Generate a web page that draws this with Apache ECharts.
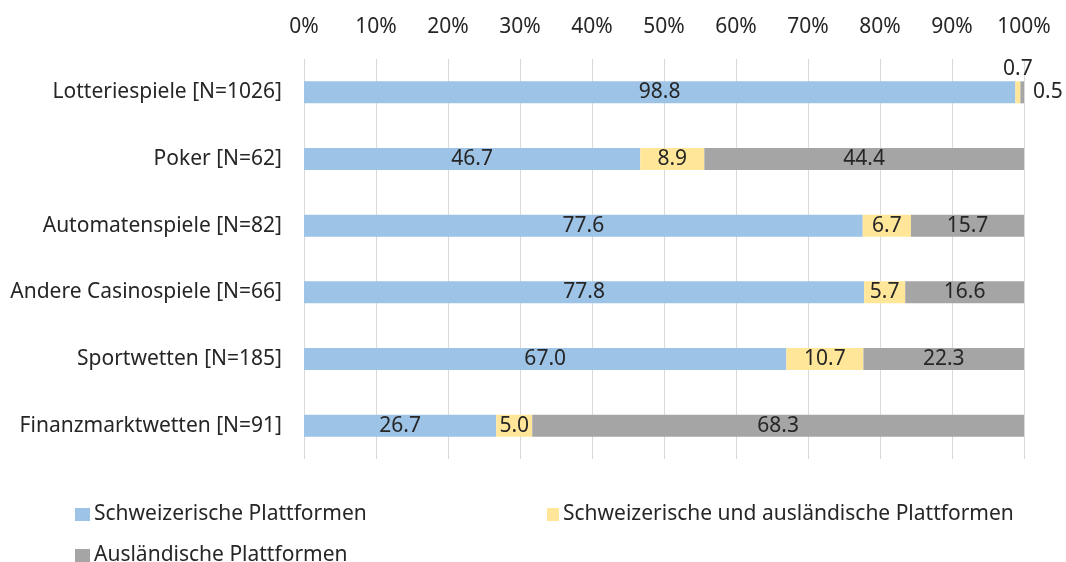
<!DOCTYPE html>
<html>
<head>
<meta charset="utf-8">
<script src="https://cdn.jsdelivr.net/npm/echarts@6/dist/echarts.min.js"></script>
<style>
  html, body { margin: 0; padding: 0; background: #fff; }
  #chart { width: 1066px; height: 562px; }
</style>
</head>
<body>
<div id="chart"></div>
<script>
// 类别（从上到下）
var categories = ['Lotteriespiele [N=1026]', 'Poker [N=62]', 'Automatenspiele [N=82]',
  'Andere Casinospiele [N=66]', 'Sportwetten [N=185]', 'Finanzmarktwetten [N=91]'];
// 三个系列的百分比
var swissValues = [98.8, 46.7, 77.6, 77.8, 67.0, 26.7];
var bothValues = [0.7, 8.9, 6.7, 5.7, 10.7, 5.0];
var foreignValues = [0.5, 44.4, 15.7, 16.6, 22.3, 68.3];
var seriesNames = ['Schweizerische Plattformen', 'Schweizerische und ausländische Plattformen', 'Ausländische Plattformen'];

var font = 'Noto Sans';
var textColor = '#262626';
var fs = 21;

function fmt(p) { return Number(p.value).toFixed(1); }

// 第一行的小数值放在条形外面
var bothData = bothValues.map(function (v, i) {
  if (i === 0) return { value: v, label: { position: 'top', distance: 2 } };
  return v;
});
var foreignData = foreignValues.map(function (v, i) {
  if (i === 0) return { value: v, label: { position: 'right', distance: 9 } };
  return v;
});

function makeSeries(name, data, color) {
  return {
    name: name,
    type: 'bar',
    stack: 'total',
    data: data,
    barWidth: 22,
    itemStyle: { color: color },
    label: {
      show: true,
      position: 'inside',
      formatter: fmt,
      color: textColor,
      fontFamily: font,
      fontSize: fs
    },
    emphasis: { disabled: true }
  };
}

function legendAt(name, left, top, w) {
  return {
    data: [name],
    left: left,
    top: top,
    itemWidth: w,
    itemHeight: 13,
    itemGap: 0,
    icon: 'rect',
    textStyle: { fontFamily: font, fontSize: fs, color: textColor, padding: [0, 0, 0, -1] }
  };
}

var chart = echarts.init(document.getElementById('chart'));
chart.setOption({
  animation: false,
  grid: { left: 304, right: 42, top: 59, height: 400 },
  legend: [
    legendAt(seriesNames[0], 70, 499, 15),
    legendAt(seriesNames[1], 542, 499, 12),
    legendAt(seriesNames[2], 70, 540, 15)
  ],
  xAxis: {
    type: 'value',
    position: 'top',
    min: 0,
    max: 100,
    interval: 10,
    axisLine: { show: false },
    axisTick: { show: false },
    axisLabel: {
      formatter: '{value}%',
      margin: 21,
      color: textColor,
      fontFamily: font,
      fontSize: fs
    },
    splitLine: { lineStyle: { color: '#d9d9d9', width: 1 } }
  },
  yAxis: {
    type: 'category',
    data: categories,
    inverse: true,
    axisLine: { show: false },
    axisTick: { show: false },
    axisLabel: {
      margin: 22,
      color: textColor,
      fontFamily: font,
      fontSize: fs
    }
  },
  series: [
    makeSeries(seriesNames[0], swissValues, '#9dc3e6'),
    makeSeries(seriesNames[1], bothData, '#ffe699'),
    makeSeries(seriesNames[2], foreignData, '#a5a5a5')
  ]
});
</script>
</body>
</html>
